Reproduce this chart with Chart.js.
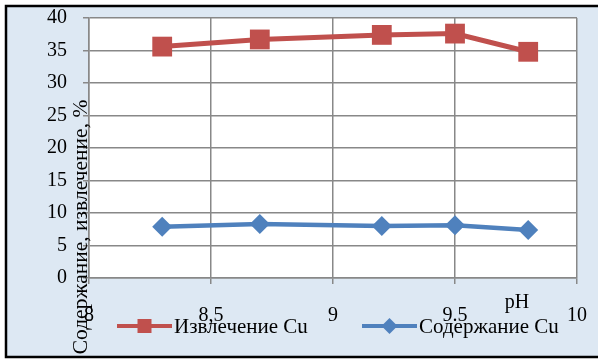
<!DOCTYPE html>
<html>
<head>
<meta charset="utf-8">
<script src="https://cdn.jsdelivr.net/npm/chart.js@4/dist/chart.umd.min.js"></script>
<style>
    html, body { margin: 0; padding: 0; background: #ffffff; }
    #wrap { width: 598px; height: 360px; position: relative; }
</style>
</head>
<body>
<div id="wrap"><canvas id="phChart"></canvas></div>
<script>
var phValues = [8.3, 8.7, 9.2, 9.5, 9.8];
var extraction = [35.6, 36.7, 37.4, 37.6, 34.8];
var content = [7.9, 8.3, 8.0, 8.1, 7.4];
var xTickLabels = ['8', '8,5', '9', '9.5', '10'];
var seriesNames = ['Извлечение Cu', 'Содержание Cu'];
var yTitle = 'Содержание, извлечение, %';
var xTitle = 'pH';

var RED = '#c0504d';
var BLUE = '#4f81bd';
var FONT = "'Liberation Serif', 'Times New Roman', serif";

function toPoints(xs, ys) {
    return xs.map(function(x, i) { return { x: x, y: ys[i] }; });
}

// drop the label overflow padding so layout.padding alone places the plot
function noOverflow(scale) {
    scale.paddingTop = 0;
    scale.paddingBottom = 0;
    scale.paddingLeft = 0;
    scale.paddingRight = 0;
}

var framePlugin = {
    id: 'frame',
    beforeDraw: function(chart) {
        var ctx = chart.ctx;
        var a = chart.chartArea;
        ctx.save();
        ctx.fillStyle = '#ffffff';
        ctx.fillRect(0, 0, chart.width, chart.height);
        ctx.fillStyle = '#dde8f3';
        ctx.fillRect(6, 6, chart.width - 6, chart.height - 9);
        ctx.strokeStyle = '#000000';
        ctx.lineWidth = 2.5;
        ctx.strokeRect(6, 6, chart.width + 10, chart.height - 9);
        ctx.fillStyle = '#ffffff';
        ctx.fillRect(a.left, a.top, a.right - a.left, a.bottom - a.top);
        ctx.restore();
    },
    afterDraw: function(chart) {
        var ctx = chart.ctx;
        ctx.save();
        ctx.fillStyle = '#000000';
        ctx.font = '20px ' + FONT;
        ctx.textAlign = 'center';
        ctx.textBaseline = 'middle';
        ctx.fillText(xTitle, 517, 303);

        ctx.save();
        ctx.translate(81, 227);
        ctx.rotate(-Math.PI / 2);
        ctx.font = '21.5px ' + FONT;
        ctx.fillText(yTitle, 0, 0);
        ctx.restore();

        // legend: line + marker + label
        var items = [
            { x1: 117, x2: 172, ds: chart.data.datasets[0], tx: 174 },
            { x1: 362, x2: 417, ds: chart.data.datasets[1], tx: 419 }
        ];
        var ly = 326;
        items.forEach(function(it) {
            var ds = it.ds;
            ctx.strokeStyle = ds.borderColor;
            ctx.lineWidth = 4;
            ctx.beginPath();
            ctx.moveTo(it.x1, ly);
            ctx.lineTo(it.x2, ly);
            ctx.stroke();
            var cx = (it.x1 + it.x2) / 2;
            ctx.fillStyle = ds.backgroundColor;
            ctx.beginPath();
            if (ds.pointStyle === 'rect') {
                ctx.rect(cx - 7, ly - 7, 14, 14);
            } else {
                ctx.moveTo(cx - 8, ly);
                ctx.lineTo(cx, ly - 8);
                ctx.lineTo(cx + 8, ly);
                ctx.lineTo(cx, ly + 8);
                ctx.closePath();
            }
            ctx.fill();
            ctx.fillStyle = '#000000';
            ctx.font = '21px ' + FONT;
            ctx.textAlign = 'left';
            ctx.textBaseline = 'middle';
            ctx.fillText(ds.label, it.tx, ly + 1);
        });
        ctx.restore();
    }
};

var ctx = document.getElementById('phChart').getContext('2d');
new Chart(ctx, {
    type: 'line',
    data: {
        datasets: [{
            label: seriesNames[0],
            data: toPoints(phValues, extraction),
            borderColor: RED,
            backgroundColor: RED,
            borderWidth: 5,
            pointStyle: 'rect',
            pointRadius: 14,
            pointHoverRadius: 14,
            pointBorderWidth: 0
        }, {
            label: seriesNames[1],
            data: toPoints(phValues, content),
            borderColor: BLUE,
            backgroundColor: BLUE,
            borderWidth: 4.5,
            pointStyle: 'rectRot',
            pointRadius: 10,
            pointHoverRadius: 10,
            pointBorderWidth: 0
        }]
    },
    options: {
        responsive: true,
        maintainAspectRatio: false,
        animation: false,
        layout: { padding: { left: 0, top: 18, right: 21, bottom: 0 } },
        plugins: {
            legend: { display: false },
            tooltip: { enabled: false }
        },
        scales: {
            x: {
                type: 'linear',
                min: 8,
                max: 10,
                afterFit: function(scale) {
                    scale.height = 82;
                    noOverflow(scale);
                },
                ticks: {
                    stepSize: 0.5,
                    color: '#000000',
                    padding: 20,
                    maxRotation: 0,
                    font: { family: FONT, size: 20 },
                    callback: function(value, index) {
                        return xTickLabels[index];
                    }
                },
                grid: { color: '#888888', lineWidth: 1.5, tickLength: 6 },
                border: { color: '#888888', width: 1.5 }
            },
            y: {
                min: 0,
                max: 40,
                afterFit: function(scale) {
                    scale.width = 89;
                    noOverflow(scale);
                },
                ticks: {
                    stepSize: 5,
                    color: '#000000',
                    padding: 16,
                    font: { family: FONT, size: 20 }
                },
                grid: { color: '#888888', lineWidth: 1.5, tickLength: 6 },
                border: { color: '#888888', width: 1.5 }
            }
        }
    },
    plugins: [framePlugin]
});
</script>
</body>
</html>
